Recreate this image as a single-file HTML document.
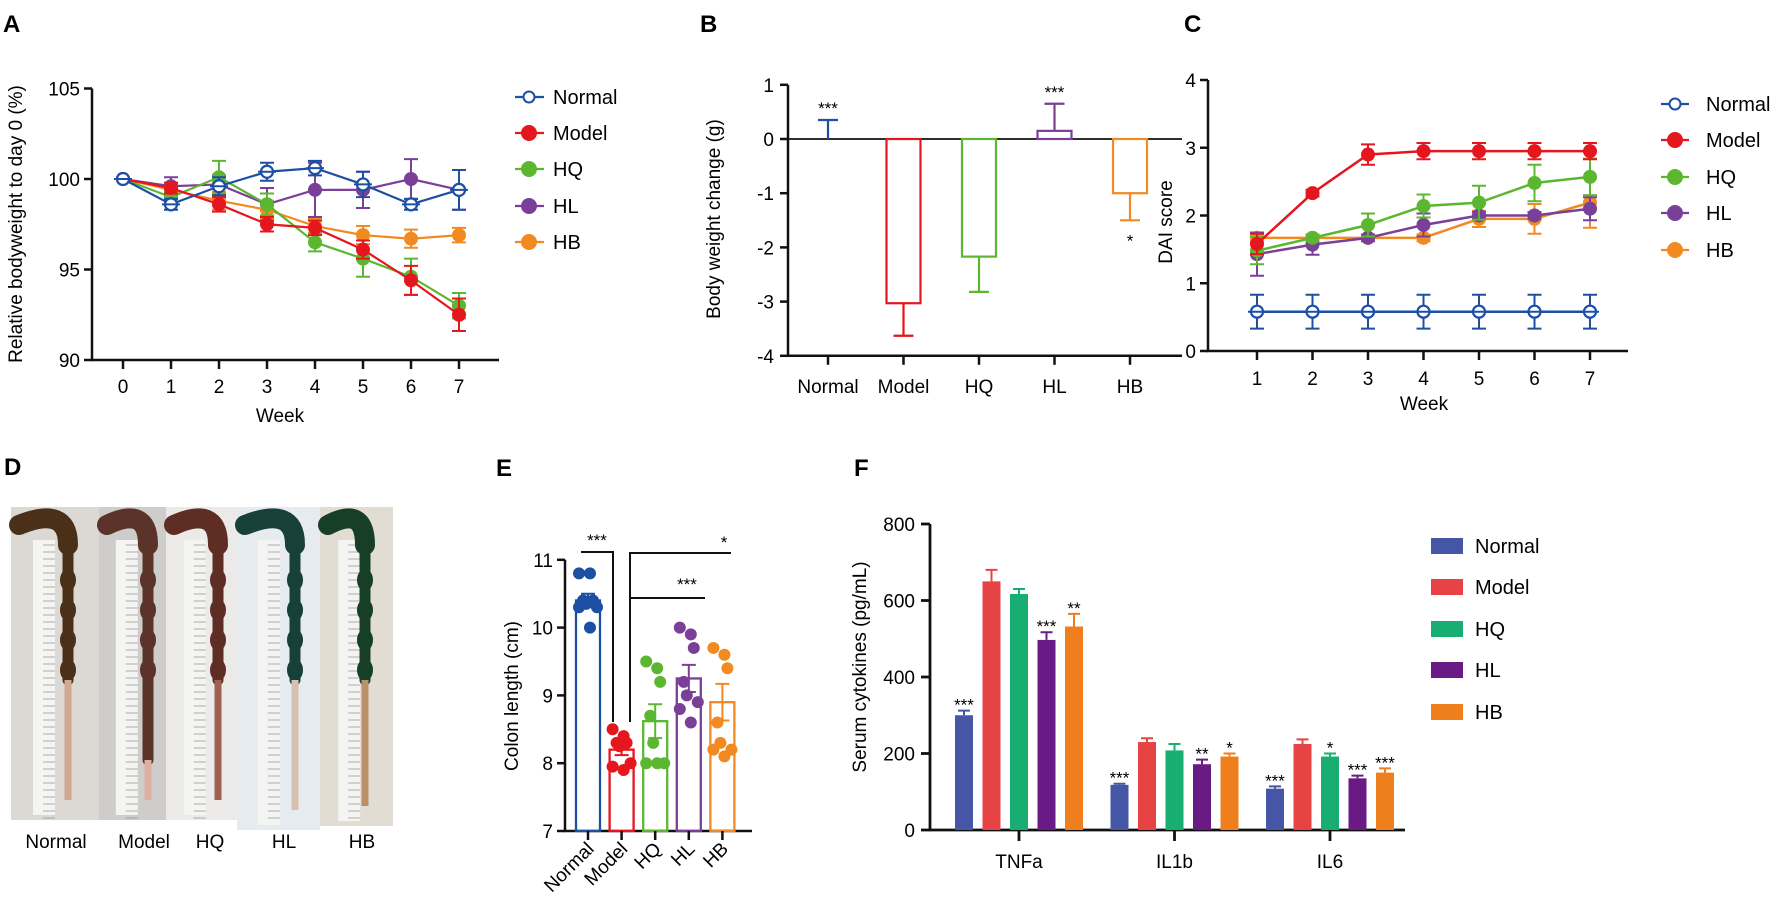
<!DOCTYPE html>
<html><head><meta charset="utf-8">
<style>
html,body{margin:0;padding:0;background:#fff;}
svg{display:block;font-family:"Liberation Sans",Arial,sans-serif;}
</style></head>
<body>
<svg id="fig" width="1772" height="915" viewBox="0 0 1772 915" xmlns="http://www.w3.org/2000/svg">
<g id="panelA"></g>
<g id="panelB"></g>
<g id="panelC"></g>
<g id="panelD"></g>
<g id="panelE"></g>
<g id="panelF"></g>
</svg>
<script>
// ---------- Data ----------
const groups = ["Normal","Model","HQ","HL","HB"];
// Panel A
const weeksA = [0,1,2,3,4,5,6,7];
const aNormal = [100,98.6,99.6,100.4,100.6,99.7,98.6,99.4];
const aModel  = [100,99.5,98.6,97.5,97.3,96.1,94.4,92.5];
const aHQ     = [100,99.0,100.1,98.6,96.5,95.6,94.6,93.0];
const aHL     = [100,99.6,99.7,98.6,99.4,99.4,100.0,99.4];
const aHB     = [100,99.4,98.8,98.3,97.4,96.9,96.7,96.9];
const aNormalErr = [0,0.3,0.5,0.5,0.4,0.7,0.3,1.1];
const aModelErr  = [0,0.3,0.4,0.4,0.4,0.5,0.8,0.9];
const aHQErr     = [0,0.3,0.9,0.6,0.5,1.0,1.0,0.7];
const aHLErr     = [0,0.5,0.5,0.9,1.5,1.0,1.1,1.1];
const aHBErr     = [0,0.3,0.5,0.5,0.4,0.5,0.5,0.4];
const aTicks = [90,95,100,105];
// Panel B
const bValues = [0,-3.03,-2.17,0.15,-1.0];
const bErr    = [0.35,0.6,0.65,0.5,0.5];
const bSig    = ["***","","","***","*"];
const bTicks  = [1,0,-1,-2,-3,-4];
// Panel C
const weeksC = [1,2,3,4,5,6,7];
const cNormal = [0.58,0.58,0.58,0.58,0.58,0.58,0.58];
const cModel  = [1.58,2.33,2.9,2.95,2.95,2.95,2.95];
const cHQ     = [1.48,1.67,1.86,2.14,2.19,2.48,2.57];
const cHL     = [1.43,1.57,1.67,1.86,2.0,2.0,2.1];
const cHB     = [1.67,1.67,1.67,1.67,1.95,1.95,2.19];
const cNormalErr = [0.25,0.25,0.25,0.25,0.25,0.25,0.25];
const cModelErr  = [0.15,0.05,0.15,0.12,0.12,0.12,0.12];
const cHQErr     = [0.2,0.05,0.17,0.17,0.25,0.27,0.27];
const cHLErr     = [0.32,0.15,0.05,0.17,0.05,0.05,0.17];
const cHBErr     = [0.05,0.05,0.05,0.05,0.12,0.22,0.37];
const cTicks = [0,1,2,3,4];
// Panel E
const eMeans = [10.4,8.2,8.62,9.25,8.9];
const eErr   = [0.1,0.08,0.25,0.2,0.27];
const ePtsNormal = [10.8,10.8,10.4,10.4,10.35,10.3,10.3,10.0];
const ePtsModel  = [8.5,8.4,8.3,8.3,8.25,8.0,7.95,7.9];
const ePtsHQ     = [9.5,9.4,9.2,8.7,8.3,8.0,8.0,8.0];
const ePtsHL     = [10.0,9.9,9.7,9.2,9.0,8.9,8.8,8.6];
const ePtsHB     = [9.7,9.6,9.4,8.6,8.3,8.2,8.2,8.1];
const eTicks = [7,8,9,10,11];
// Panel F
const fCats = ["TNFa","IL1b","IL6"];
const fNormal = [300,118,108];
const fModel  = [650,230,225];
const fHQ     = [617,208,192];
const fHL     = [497,172,135];
const fHB     = [532,192,150];
const fNormalErr = [12,3,6];
const fModelErr  = [30,10,12];
const fHQErr     = [13,17,8];
const fHLErr     = [20,12,7];
const fHBErr     = [33,8,11];
const fNormalSig = ["***","***","***"];
const fModelSig  = ["","",""];
const fHQSig     = ["","","*"];
const fHLSig     = ["***","**","***"];
const fHBSig     = ["**","*","***"];
const fTicks = [0,200,400,600,800];

// ---------- helpers ----------
const NS="http://www.w3.org/2000/svg";
function mk(parent,tag,attrs,txt){
  const el=document.createElementNS(NS,tag);
  for(const k in attrs) el.setAttribute(k,attrs[k]);
  if(txt!==undefined) el.textContent=txt;
  parent.appendChild(el); return el;
}
const COL = {Normal:"#1d4fa3",Model:"#e5161d",HQ:"#5cb730",HL:"#7a3f97",HB:"#f28a22"};
const FCOL = {Normal:"#4656a6",Model:"#e84344",HQ:"#18ae72",HL:"#6a1a85",HB:"#ef7e1c"};
const BK="#111";

// ---------- Panel A ----------
(function(){
  const g=document.getElementById('panelA');
  const x=w=>123+w*48, y=v=>179-(v-100)*18.1;
  let t=mk(g,'text',{x:3,y:32,'font-size':24,'font-weight':'bold'},'A');
   
  let ax=mk(g,'path',{d:`M92 ${y(105)} V360 H499`,stroke:BK,'stroke-width':2.5,fill:'none'});
   
  aTicks.forEach(v=>{
    mk(g,'line',{x1:84,x2:92,y1:y(v),y2:y(v),stroke:BK,'stroke-width':2.5});
    let l=mk(g,'text',{x:80,y:y(v)+7,'font-size':19,'text-anchor':'end'},v);
     
  });
  weeksA.forEach(w=>{
    mk(g,'line',{x1:x(w),x2:x(w),y1:360,y2:369,stroke:BK,'stroke-width':2.5});
    let l=mk(g,'text',{x:x(w),y:393,'font-size':19,'text-anchor':'middle'},w);
     
  });
  let yt=mk(g,'text',{x:0,y:0,'font-size':19,'text-anchor':'middle',transform:'translate(22,224) rotate(-90)'},'Relative bodyweight to day 0 (%)');
   
  let xt=mk(g,'text',{x:280,y:422,'font-size':19,'text-anchor':'middle'},'Week');
   
  const series=[["HB",aHB,aHBErr],["HL",aHL,aHLErr],["HQ",aHQ,aHQErr],["Model",aModel,aModelErr],["Normal",aNormal,aNormalErr]];
  series.forEach(([name,vals,errs])=>{
    const c=COL[name]; const sg=mk(g,'g',{});
     
    mk(sg,'polyline',{points:vals.map((v,i)=>x(weeksA[i])+','+y(v)).join(' '),fill:'none',stroke:c,'stroke-width':2.2});
    vals.forEach((v,i)=>{
      const e=errs[i]; const cx=x(weeksA[i]);
      if(e>0){
        mk(sg,'path',{d:`M${cx} ${y(v+e)} V${y(v-e)} M${cx-7} ${y(v+e)} H${cx+7} M${cx-7} ${y(v-e)} H${cx+7}`,stroke:c,'stroke-width':2,fill:'none'});
      }
      let p=mk(sg,'circle',{cx:cx,cy:y(v),r:name==="Normal"?6:7,fill:name==="Normal"?'#fff':c,stroke:c,'stroke-width':name==="Normal"?2.2:0});
       
      if(name==="Normal") mk(sg,'line',{x1:cx-9,x2:cx+9,y1:y(v),y2:y(v),stroke:c,'stroke-width':2});
    });
  });
  const ly=[97,133,169,206,242];
  groups.forEach((n,i)=>{
    const lg=mk(g,'g',{});  
    mk(lg,'line',{x1:515,x2:544,y1:ly[i],y2:ly[i],stroke:COL[n],'stroke-width':2.2});
    mk(lg,'circle',{cx:529,cy:ly[i],r:n==="Normal"?5.5:7,fill:n==="Normal"?'#fff':COL[n],stroke:COL[n],'stroke-width':2});
    mk(lg,'text',{x:553,y:ly[i]+7,'font-size':20},n);
  });
})();

// ---------- Panel B ----------
(function(){
  const g=document.getElementById('panelB');
  const y=v=>139-v*54.2, x=i=>828+i*75.5;
  let t=mk(g,'text',{x:700,y:32,'font-size':24,'font-weight':'bold'},'B');
   
  mk(g,'path',{d:`M788 ${y(1)} V${y(-4)} H1182`,stroke:BK,'stroke-width':2.5,fill:'none'});
  let z=mk(g,'line',{x1:788,x2:1182,y1:y(0),y2:y(0),stroke:BK,'stroke-width':1.8});
   
  bTicks.forEach(v=>{
    mk(g,'line',{x1:780,x2:788,y1:y(v),y2:y(v),stroke:BK,'stroke-width':2.5});
    let l=mk(g,'text',{x:774,y:y(v)+7,'font-size':19,'text-anchor':'end'},v<0?'-'+Math.abs(v):v);
     
  });
  let yt=mk(g,'text',{x:0,y:0,'font-size':19,'text-anchor':'middle',transform:'translate(720,219) rotate(-90)'},'Body weight change (g)');
   
  groups.forEach((n,i)=>{
    const c=COL[n], cx=x(i), v=bValues[i], e=bErr[i];
    const bg=mk(g,'g',{});  
    if(v!==0) mk(bg,'rect',{x:cx-17,y:Math.min(y(0),y(v)),width:34,height:Math.abs(y(v)-y(0)),fill:'none',stroke:c,'stroke-width':2.2});
    const ee = v>=0 ? v+e : v-e;
    mk(bg,'path',{d:`M${cx} ${y(v)} V${y(ee)} M${cx-10} ${y(ee)} H${cx+10}`,stroke:c,'stroke-width':2.2,fill:'none'});
    mk(g,'line',{x1:cx,x2:cx,y1:y(-4),y2:y(-4)+9,stroke:BK,'stroke-width':2.5});
    let l=mk(g,'text',{x:cx,y:393,'font-size':19,'text-anchor':'middle'},n);
     
    if(bSig[i]){
      const sy = v>=0 ? y(ee)-6 : y(ee)+26;
      let s=mk(g,'text',{x:cx,y:sy,'font-size':17,'text-anchor':'middle'},bSig[i]);
       
    }
  });
})();

// ---------- Panel C ----------
(function(){
  const g=document.getElementById('panelC');
  const x=w=>1257+(w-1)*55.5, y=v=>351-v*67.75;
  let t=mk(g,'text',{x:1184,y:32,'font-size':24,'font-weight':'bold'},'C');
   
  mk(g,'path',{d:`M1208 ${y(4)} V351 H1628`,stroke:BK,'stroke-width':2.5,fill:'none'});
  cTicks.forEach(v=>{
    mk(g,'line',{x1:1200,x2:1208,y1:y(v),y2:y(v),stroke:BK,'stroke-width':2.5});
    let l=mk(g,'text',{x:1196,y:y(v)+7,'font-size':19,'text-anchor':'end'},v);
     
  });
  weeksC.forEach(w=>{
    mk(g,'line',{x1:x(w),x2:x(w),y1:351,y2:360,stroke:BK,'stroke-width':2.5});
    let l=mk(g,'text',{x:x(w),y:385,'font-size':19,'text-anchor':'middle'},w);
     
  });
  let yt=mk(g,'text',{x:0,y:0,'font-size':19,'text-anchor':'middle',transform:'translate(1172,222) rotate(-90)'},'DAI score');
   
  let xt=mk(g,'text',{x:1424,y:410,'font-size':19,'text-anchor':'middle'},'Week');
   
  const series=[["HB",cHB,cHBErr],["HL",cHL,cHLErr],["HQ",cHQ,cHQErr],["Model",cModel,cModelErr],["Normal",cNormal,cNormalErr]];
  series.forEach(([name,vals,errs])=>{
    const c=COL[name]; const sg=mk(g,'g',{});
     
    mk(sg,'polyline',{points:vals.map((v,i)=>x(weeksC[i])+','+y(v)).join(' '),fill:'none',stroke:c,'stroke-width':2.5});
    vals.forEach((v,i)=>{
      const e=errs[i], cx=x(weeksC[i]);
      mk(sg,'path',{d:`M${cx} ${y(v+e)} V${y(v-e)} M${cx-7} ${y(v+e)} H${cx+7} M${cx-7} ${y(v-e)} H${cx+7}`,stroke:c,'stroke-width':2,fill:'none'});
      let p=mk(sg,'circle',{cx:cx,cy:y(v),r:name==="Normal"?6:7,fill:name==="Normal"?'#fff':c,stroke:c,'stroke-width':name==="Normal"?2.2:0});
       
      if(name==="Normal") mk(sg,'line',{x1:cx-9,x2:cx+9,y1:y(v),y2:y(v),stroke:c,'stroke-width':2});
    });
  });
  const ly=[104,140,177,213,250];
  groups.forEach((n,i)=>{
    const lg=mk(g,'g',{});  
    mk(lg,'line',{x1:1661,x2:1689,y1:ly[i],y2:ly[i],stroke:COL[n],'stroke-width':2.2});
    mk(lg,'circle',{cx:1675,cy:ly[i],r:n==="Normal"?5.5:7,fill:n==="Normal"?'#fff':COL[n],stroke:COL[n],'stroke-width':2});
    mk(lg,'text',{x:1706,y:ly[i]+7,'font-size':20},n);
  });
})();

// ---------- Panel D ----------
(function(){
  const g=document.getElementById('panelD');
  let t=mk(g,'text',{x:4,y:475,'font-size':24,'font-weight':'bold'},'D');
   
  const photos=[
    {n:"Normal",x0:11,x1:99,bot:820,bg:"#dcd9d4",col:"#4a3018",tail:"#d2a890",cx:68},
    {n:"Model",x0:99,x1:166,bot:820,bg:"#cfcdcb",col:"#5b3328",tail:"#dcb0a0",cx:148},
    {n:"HQ",x0:166,x1:237,bot:820,bg:"#eceae8",col:"#5e2e24",tail:"#a06050",cx:218},
    {n:"HL",x0:237,x1:320,bot:830,bg:"#e6ebef",col:"#17403b",tail:"#d8c0b0",cx:295},
    {n:"HB",x0:320,x1:393,bot:826,bg:"#e2ddd2",col:"#173f27",tail:"#b8906a",cx:365}
  ];
  const lx=[56,144,210,284,362];
  photos.forEach((p,i)=>{
    const pg=mk(g,'g',{});  
    mk(pg,'rect',{x:p.x0,y:507,width:p.x1-p.x0,height:p.bot-507,fill:p.bg});
    const rx=p.x0+ (p.x1-p.x0)*0.25;
    mk(pg,'rect',{x:rx,y:540,width:22,height:p.bot-545,fill:"#f4f4f2"});
    for(let k=0;k<40;k++){ mk(pg,'line',{x1:rx+10,x2:rx+22,y1:545+k*7,y2:545+k*7,stroke:"#999",'stroke-width':0.8}); }
    mk(pg,'path',{d:`M${p.x0+8} 525 Q${p.cx} 505 ${p.cx} 545`,stroke:p.col,'stroke-width':20,fill:'none','stroke-linecap':'round'});
    mk(pg,'line',{x1:p.cx,y1:545,x2:p.cx,y2:(i===1?760:680),stroke:p.col,'stroke-width':11,'stroke-linecap':'round'});
    for(let k=0;k<4;k++){ mk(pg,'ellipse',{cx:p.cx,cy:580+k*30,rx:8,ry:11,fill:p.col}); }
    mk(pg,'line',{x1:p.cx,y1:(i===1?760:680),x2:p.cx,y2:p.bot-20,stroke:p.tail,'stroke-width':7});
    let l=mk(g,'text',{x:lx[i],y:848,'font-size':19,'text-anchor':'middle'},p.n);
     
  });
})();

// ---------- Panel E ----------
(function(){
  const g=document.getElementById('panelE');
  const y=v=>831-(v-7)*67.8, x=i=>588+i*33.6;
  let t=mk(g,'text',{x:496,y:476,'font-size':24,'font-weight':'bold'},'E');
   
  mk(g,'path',{d:`M565 ${y(11)} V831 H752`,stroke:BK,'stroke-width':2.5,fill:'none'});
  eTicks.forEach(v=>{
    mk(g,'line',{x1:557,x2:565,y1:y(v),y2:y(v),stroke:BK,'stroke-width':2.5});
    let l=mk(g,'text',{x:553,y:y(v)+7,'font-size':19,'text-anchor':'end'},v);
     
  });
  let yt=mk(g,'text',{x:0,y:0,'font-size':19,'text-anchor':'middle',transform:'translate(518,696) rotate(-90)'},'Colon length (cm)');
   
  const pts=[ePtsNormal,ePtsModel,ePtsHQ,ePtsHL,ePtsHB];
  groups.forEach((n,i)=>{
    const c=COL[n], cx=x(i), v=eMeans[i], e=eErr[i];
    const bg=mk(g,'g',{});  
    mk(bg,'rect',{x:cx-12,y:y(v),width:24,height:831-y(v),fill:'none',stroke:c,'stroke-width':2.3});
    mk(bg,'path',{d:`M${cx} ${y(v-e)} V${y(v+e)} M${cx-7} ${y(v+e)} H${cx+7} M${cx-7} ${y(v-e)} H${cx+7}`,stroke:c,'stroke-width':2,fill:'none'});
    pts[i].forEach((pv,k)=>{
      const off=((k%3)-1)*7 + (k%2?2:-2);
      let d=mk(g,'circle',{cx:cx+off,cy:y(pv),r:6,fill:c});
       
    });
    mk(g,'line',{x1:cx,x2:cx,y1:831,y2:840,stroke:BK,'stroke-width':2.5});
    let l=mk(g,'text',{x:0,y:0,'font-size':19,'text-anchor':'end',transform:`translate(${cx+7},850) rotate(-45)`},n);
     
  });
  const br=mk(g,'g',{});  
  mk(br,'path',{d:'M581 552 H613 V722',stroke:BK,'stroke-width':2,fill:'none'});
  mk(br,'path',{d:'M731 553 H630 V722 M630 598 H705',stroke:BK,'stroke-width':2,fill:'none'});
  mk(br,'text',{x:597,y:546,'font-size':17,'text-anchor':'middle'},'***');
  mk(br,'text',{x:687,y:590,'font-size':17,'text-anchor':'middle'},'***');
  mk(br,'text',{x:724,y:548,'font-size':17,'text-anchor':'middle'},'*');
})();

// ---------- Panel F ----------
(function(){
  const g=document.getElementById('panelF');
  const y=v=>830-v*0.3825, gx=i=>1019+i*155.5;
  let t=mk(g,'text',{x:854,y:476,'font-size':24,'font-weight':'bold'},'F');
   
  mk(g,'path',{d:`M930 ${y(800)} V830 H1405`,stroke:BK,'stroke-width':2.8,fill:'none'});
  fTicks.forEach(v=>{
    mk(g,'line',{x1:921,x2:930,y1:y(v),y2:y(v),stroke:BK,'stroke-width':2.8});
    let l=mk(g,'text',{x:915,y:y(v)+7,'font-size':19,'text-anchor':'end'},v);
     
  });
  let yt=mk(g,'text',{x:0,y:0,'font-size':19,'text-anchor':'middle',transform:'translate(866,667) rotate(-90)'},'Serum cytokines (pg/mL)');
   
  const vals=[fNormal,fModel,fHQ,fHL,fHB], errs=[fNormalErr,fModelErr,fHQErr,fHLErr,fHBErr], sigs=[fNormalSig,fModelSig,fHQSig,fHLSig,fHBSig];
  fCats.forEach((cat,ci)=>{
    const c0=gx(ci);
    mk(g,'line',{x1:c0,x2:c0,y1:830,y2:841,stroke:BK,'stroke-width':2.8});
    let l=mk(g,'text',{x:c0,y:868,'font-size':19,'text-anchor':'middle'},cat);
     
    groups.forEach((n,gi)=>{
      const cx=c0+(gi-2)*27.5, v=vals[gi][ci], e=errs[gi][ci], c=FCOL[n];
      let b=mk(g,'rect',{x:cx-9,y:y(v),width:18,height:830-y(v),fill:c});
       
      mk(g,'path',{d:`M${cx} ${y(v)} V${y(v+e)} M${cx-6} ${y(v+e)} H${cx+6}`,stroke:c,'stroke-width':2,fill:'none'});
      const s=sigs[gi][ci];
      if(s){
        let st=mk(g,'text',{x:cx,y:y(v+e),'font-size':17,'text-anchor':'middle'},s);
         
      }
    });
  });
  const ly=[546,587,629,670,712];
  groups.forEach((n,i)=>{
    const lg=mk(g,'g',{});  
    mk(lg,'rect',{x:1431,y:ly[i]-8,width:32,height:16,fill:FCOL[n]});
    mk(lg,'text',{x:1475,y:ly[i]+7,'font-size':20},n);
  });
})();
</script>
</body></html>
